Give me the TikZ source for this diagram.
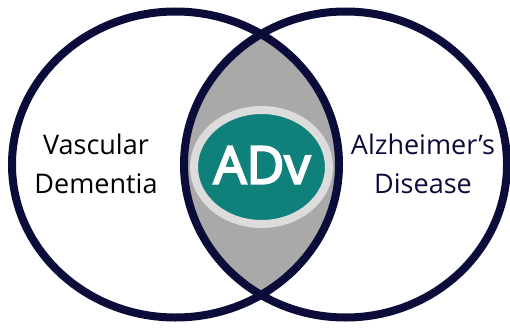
\documentclass[tikz,border=0pt]{standalone}
\usepackage{fontspec}
\setmainfont{Open Sans}
\usepackage{tikz}

\definecolor{ringnavy}{HTML}{0B0C3A}
\definecolor{lensgray}{HTML}{A9A9A9}
\definecolor{shadegray}{HTML}{989898}
\definecolor{rimgray}{HTML}{DCDCDC}
\definecolor{advteal}{HTML}{10807B}

\begin{document}
\begin{tikzpicture}[x=1pt,y=1pt,
    ring/.style={draw=ringnavy, line width=8pt},
    label/.style={font=\fontsize{27}{39}\selectfont, align=center}]
                \useasboundingbox (0,0) rectangle (510,330);

                % Centres of the two sets
                \coordinate (lc) at (175.5,165.5);
                \coordinate (rc) at (345.5,165.5);

                % Overlap with its drop shadow
                \begin{scope}[shift={(-6,-9)}]
                    \clip (lc) ellipse [x radius=163.5, y radius=153];
                    \fill[shadegray] (rc) ellipse [x radius=161.5, y radius=153];
                \end{scope}
                \begin{scope}
                    \clip (lc) ellipse [x radius=163.5, y radius=153];
                    \fill[lensgray] (rc) ellipse [x radius=161.5, y radius=153];
                \end{scope}

                % Outlines of the sets
                \draw[ring] (lc) ellipse [x radius=163.5, y radius=153];
                \draw[ring] (rc) ellipse [x radius=161.5, y radius=153];

                % Shared region badge
                \fill[advteal, draw=rimgray, line width=8pt] (261.5,163) ellipse [x radius=67.5, y radius=57];
                \node[text=white, font=\fontsize{52}{52}\selectfont\addfontfeature{FakeBold=4}] (adv) at (262,165) {ADv};

                % Set labels
                \node[label, text=black] (vd) at (96,166) {Vascular\\Dementia};
                \node[label, text=ringnavy] (ad) at (423,166) {Alzheimer’s\\Disease};
            \end{tikzpicture}
\end{document}
